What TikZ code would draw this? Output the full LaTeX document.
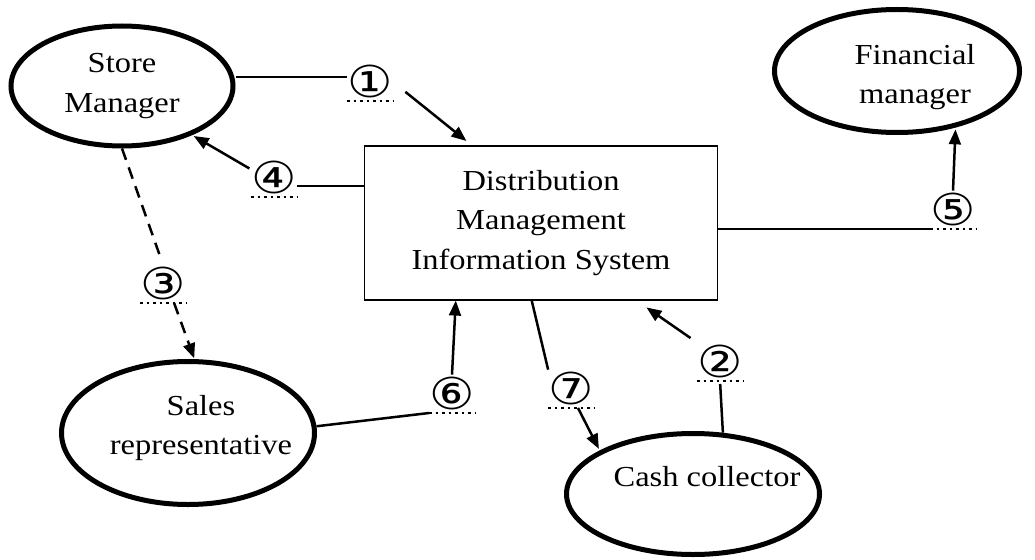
\documentclass[tikz,border=0pt]{standalone}
\usepackage{fontspec}
\setmainfont{Liberation Serif}[FakeStretch=1.12]
\newfontfamily\circfont{DejaVu Sans}[FakeStretch=1.15]
\usetikzlibrary{arrows,shapes.geometric}

\begin{document}
\begin{tikzpicture}[>=triangle 45, x=1pt, y=-1pt]
    \tikzstyle{every node} = [font=\fontsize{29}{39.5}\selectfont, align=center];
    \tikzstyle{actor} = [ellipse, draw=black, line width=5pt, inner sep=0pt];
    \tikzstyle{system} = [rectangle, draw=black, line width=1.5pt, minimum width=353pt, minimum height=154pt];
    \tikzstyle{num} = [anchor=south, minimum width=36pt, minimum height=38pt, inner sep=0pt, font=\circfont\fontsize{44}{44}\selectfont];
    \tikzstyle{link} = [line width=2.5pt];
    \tikzstyle{arr} = [link, ->];
    \tikzstyle{flowdash} = [link, dash pattern=on 12pt off 8pt];
    \tikzstyle{dotline} = [line width=2.4pt, dash pattern=on 2.4pt off 4.1pt];
    \useasboundingbox (0,0) rectangle (1035,559);
    % actors and system
    \node[actor, minimum width=222pt, minimum height=120pt] (sm) at (122,86) {Store\\Manager};
    \node[actor, minimum width=245pt, minimum height=123pt] (fm) at (897,71) {};
    \node (fmtext) at (915,77) {Financial\\manager};
    \node[actor, minimum width=253pt, minimum height=143pt] (sr) at (188,433) {};
    \node (srtext) at (201,428) {Sales\\representative};
    \node[actor, minimum width=253pt, minimum height=121pt] (cc) at (693,494) {};
    \node (cctext) at (707,477) {Cash collector};
    \node[system] (dmis) at (541,223) {Distribution\\Management\\Information System};
    % flow numbers
    \node[num] (n1) at (370,101) {①};
    \node[num] (n2) at (720,381) {②};
    \node[num] (n3) at (163,303) {③};
    \node[num] (n4) at (274,197) {④};
    \node[num] (n5) at (953,229) {⑤};
    \node[num] (n6) at (452,413) {⑥};
    \node[num] (n7) at (571,408) {⑦};
    \draw[dotline] (n1.south west) -- (n1.south east);
    \draw[dotline] (n2.south west) -- (n2.south east);
    \draw[dotline] (n3.south west) -- (n3.south east);
    \draw[dotline] (n4.south west) -- (n4.south east);
    \draw[dotline] (n5.south west) -- (n5.south east);
    \draw[dotline] (n6.south west) -- (n6.south east);
    \draw[dotline] (n7.south west) -- (n7.south east);
    % flows
    \draw[link] (n1.168) -- (n1.168 -| sm.east);
    \draw[arr, shorten <=16pt, shorten >=7pt] (n1.east) -- ([xshift=108pt]dmis.north west);
    \draw[link] (n4.-20) -- (n4.-20 -| dmis.west);
    \draw[arr, shorten <=2pt, shorten >=2pt] (n4.160) -- (sm.-35);
    \draw[flowdash, shorten >=8pt] (sm.south) -- (n3.north);
    \draw[flowdash, ->, shorten >=1pt] (n3.-60) -- (sr.85);
    \draw[link] (n5.south west) -- (n5.south west -| dmis.east);
    \draw[arr, shorten >=2pt] (n5.north) -- (fm.-44);
    \draw[link] (sr.3) -- (n6.south west);
    \draw[arr] (n6.north) -- ([xshift=92pt]dmis.south west);
    \draw[link] ([xshift=168pt]dmis.south west) -- (n7.north west);
    \draw[arr, shorten >=2pt] (n7.-70) -- (cc.155);
    \draw[link, shorten <=3pt] (n2.south) -- (cc.64);
    \draw[arr, shorten <=8pt, shorten >=12pt] (n2.north west) -- ([xshift=273pt]dmis.south west);
\end{tikzpicture}
\end{document}
